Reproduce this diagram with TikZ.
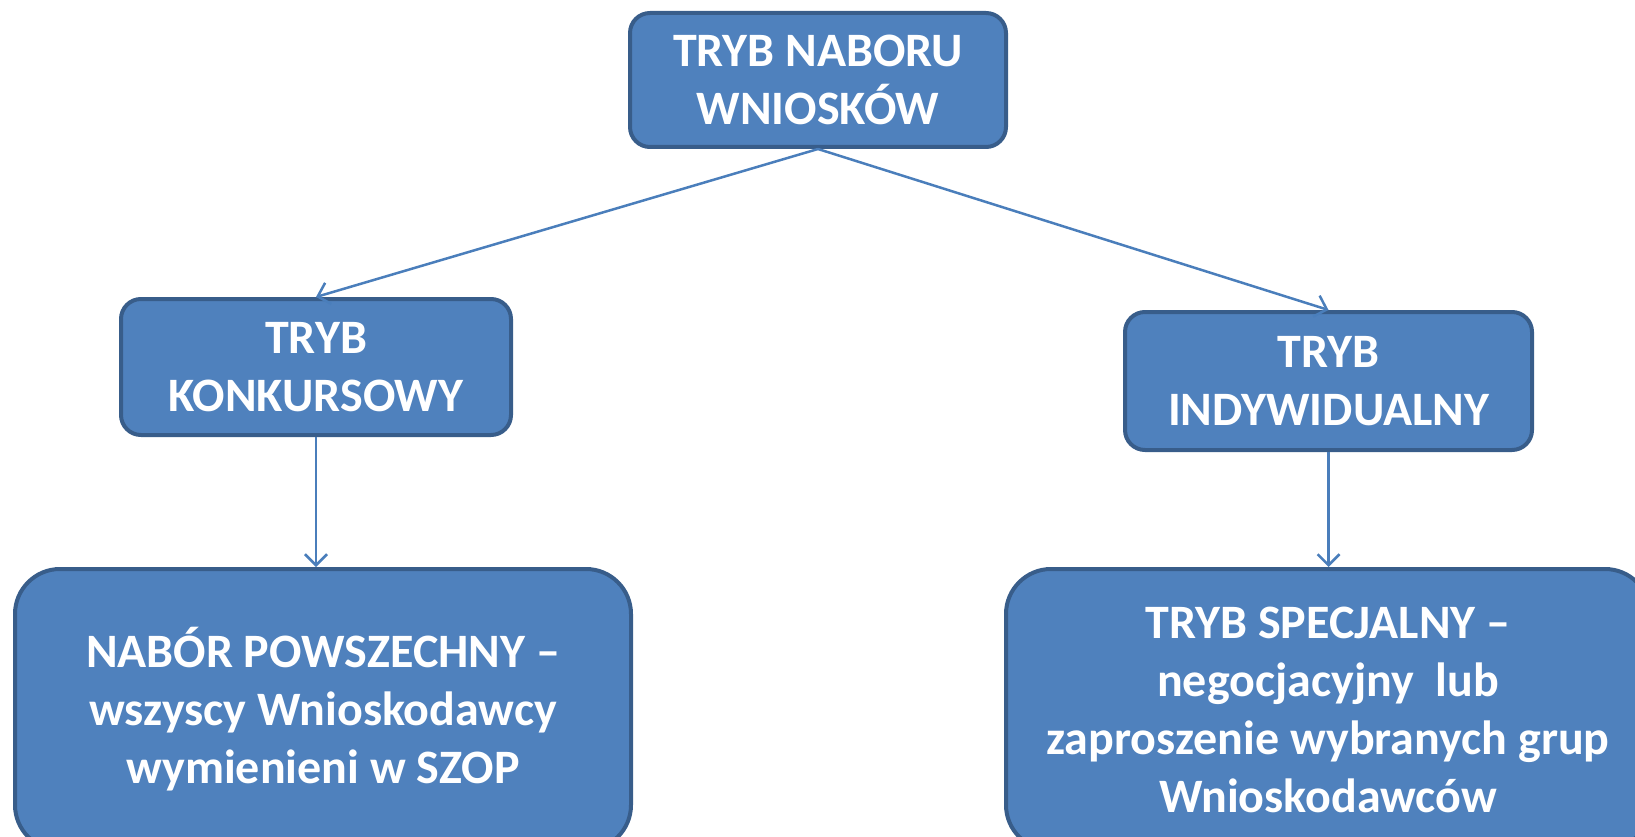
\documentclass[tikz,border=0pt]{standalone}
\usepackage{fontspec}
\setmainfont{Carlito}
\usetikzlibrary{arrows.meta}
\definecolor{boxfill}{HTML}{4F81BD}
\definecolor{boxline}{HTML}{385D8A}
\definecolor{arrowc}{HTML}{4A7EBB}
\tikzset{
  box/.style={draw=boxline, line width=4pt, fill=boxfill, text=white,
    align=center, font=\fontsize{48}{58}\selectfont\bfseries, inner sep=0pt},
  conn/.style={draw=arrowc, line width=2.5pt, -{Straight Barb[length=11pt,width=22pt,line width=2.5pt]}}
}
\begin{document}
\begin{tikzpicture}[x=1pt,y=-1pt]
\useasboundingbox (0,0) rectangle (1635,837);
\clip (0,0) rectangle (1635,837);
\node[box, minimum width=376, minimum height=134, rounded corners=20pt] (top) at (818,80) {TRYB NABORU\\WNIOSKÓW};
\node[box, minimum width=390, minimum height=136, rounded corners=20pt] (lm) at (316,367) {TRYB\\KONKURSOWY};
\node[box, minimum width=407, minimum height=138, rounded corners=20pt] (rm) at (1328.5,381) {TRYB\\INDYWIDUALNY};
\node[box, minimum width=616, minimum height=281, rounded corners=45pt] (bl) at (323,709.5) {NABÓR POWSZECHNY –\\wszyscy Wnioskodawcy\\wymienieni w SZOP};
\node[box, minimum width=644, minimum height=281, rounded corners=45pt] (br) at (1328,709.5) {TRYB SPECJALNY –\\negocjacyjny\ \ lub\\zaproszenie wybranych grup\\Wnioskodawców};
\draw[conn] (top.south) -- (lm.north);
\draw[conn] (top.south) -- (rm.north);
\draw[conn] (lm.south) -- (lm.south |- bl.north);
\draw[conn] (rm.south) -- (rm.south |- br.north);
\end{tikzpicture}
\end{document}
